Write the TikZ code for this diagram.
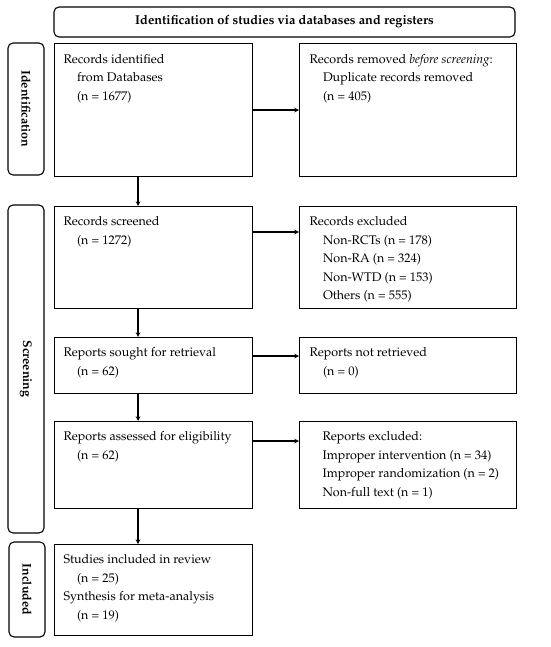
\documentclass[tikz,border=0pt]{standalone}
\usepackage[T1]{fontenc}
\usepackage{mathpazo}
\usetikzlibrary{positioning}
\tikzset{
  box/.style={draw, anchor=north west, inner sep=0pt},
  side/.style={draw, rounded corners=5pt, rotate=-90, minimum height=36pt, inner sep=0pt,
    font=\bfseries\fontsize{12.5}{14}\selectfont},
  txt/.style={anchor=north west, inner sep=0pt, align=left,
    font=\fontsize{12.5}{18.5}\selectfont},
}
\newcommand{\ind}{\hspace*{13.5pt}}
\begin{document}
\begin{tikzpicture}[x=1pt, y=-1pt, >=stealth, line width=1.1pt]
		\useasboundingbox (0,0) rectangle (550,647);
		% stages
		\node[draw, rounded corners=5pt, minimum width=461pt, minimum height=30pt,
			font=\bfseries\fontsize{12.8}{14}\selectfont] (head) at (284.5,22)
			{Identification of studies via databases and registers};
		\node[side, minimum width=132pt] (sident) at (26,109) {Identification};
		\node[side, minimum width=328pt] (sscreen) at (26,369) {Screening};
		\node[side, minimum width=95pt] (sincl) at (27,589.5) {Included};
		% boxes
		\node[box, minimum width=198pt, minimum height=133pt] (ident) at (54,43) {};
		\node[box, minimum width=217pt, minimum height=133pt] (dupl) at (299,43) {};
		\node[box, minimum width=198pt, minimum height=102pt] (screen) at (54,206) {};
		\node[box, minimum width=217pt, minimum height=102pt] (excl) at (299,206) {};
		\node[box, minimum width=198pt, minimum height=56pt] (sought) at (54,337) {};
		\node[box, minimum width=217pt, minimum height=56pt] (notret) at (299,337) {};
		\node[box, minimum width=198pt, minimum height=87pt] (assess) at (54,421) {};
		\node[box, minimum width=217pt, minimum height=87pt] (repexcl) at (299,421) {};
		\node[box, minimum width=198pt, minimum height=91pt] (incl) at (54,544) {};
		% texts
		\node[txt] (tident) at ([xshift=9pt,yshift=-10.5pt]ident.north west)
			{Records identified\\ \ind from Databases\\ \ind (n = 1677)};
		\node[txt] (tdupl) at ([xshift=10pt,yshift=-10.5pt]dupl.north west)
			{Records removed \textit{before screening}:\\ \ind Duplicate records removed\\ \ind (n = 405)};
		\node[txt] (tscreen) at ([xshift=9pt,yshift=-10pt]screen.north west)
			{Records screened\\ \ind (n = 1272)};
		\node[txt] (texcl) at ([xshift=10pt,yshift=-10pt]excl.north west)
			{Records excluded\\ \ind Non-RCTs (n = 178)\\ \ind Non-RA (n = 324)\\ \ind Non-WTD (n = 153)\\ \ind Others (n = 555)};
		\node[txt] (tsought) at ([xshift=9pt,yshift=-10pt]sought.north west)
			{Reports sought for retrieval\\ \ind (n = 62)};
		\node[txt] (tnotret) at ([xshift=10pt,yshift=-10pt]notret.north west)
			{Reports not retrieved\\ \ind (n = 0)};
		\node[txt] (tassess) at ([xshift=9pt,yshift=-10pt]assess.north west)
			{Reports assessed for eligibility\\ \ind (n = 62)};
		\node[txt] (trepexcl) at ([xshift=23pt,yshift=-10pt]repexcl.north west)
			{Reports excluded:\\ Improper intervention (n = 34)\\ Improper randomization (n = 2)\\ Non-full text (n = 1)};
		\node[txt] (tincl) at ([xshift=9pt,yshift=-10pt]incl.north west)
			{Studies included in review\\ \ind (n = 25)\\ Synthesis for meta-analysis\\ \ind (n = 19)};
		% arrows
		\coordinate (spine) at (138,0);
		\draw[->] (ident.south -| spine) -- (screen.north -| spine);
		\draw[->] (screen.south -| spine) -- (sought.north -| spine);
		\draw[->] (sought.south -| spine) -- (assess.north -| spine);
		\draw[->] (assess.south -| spine) -- (incl.north -| spine);
		\draw[->] (ident.east) -- (dupl.west);
		\draw[->] ([yshift=-26pt]screen.north east) -- ([yshift=-26pt]excl.north west);
		\draw[->] ([yshift=-19pt]sought.north east) -- ([yshift=-19pt]notret.north west);
		\draw[->] ([yshift=-20pt]assess.north east) -- ([yshift=-20pt]repexcl.north west);
	\end{tikzpicture}
\end{document}
